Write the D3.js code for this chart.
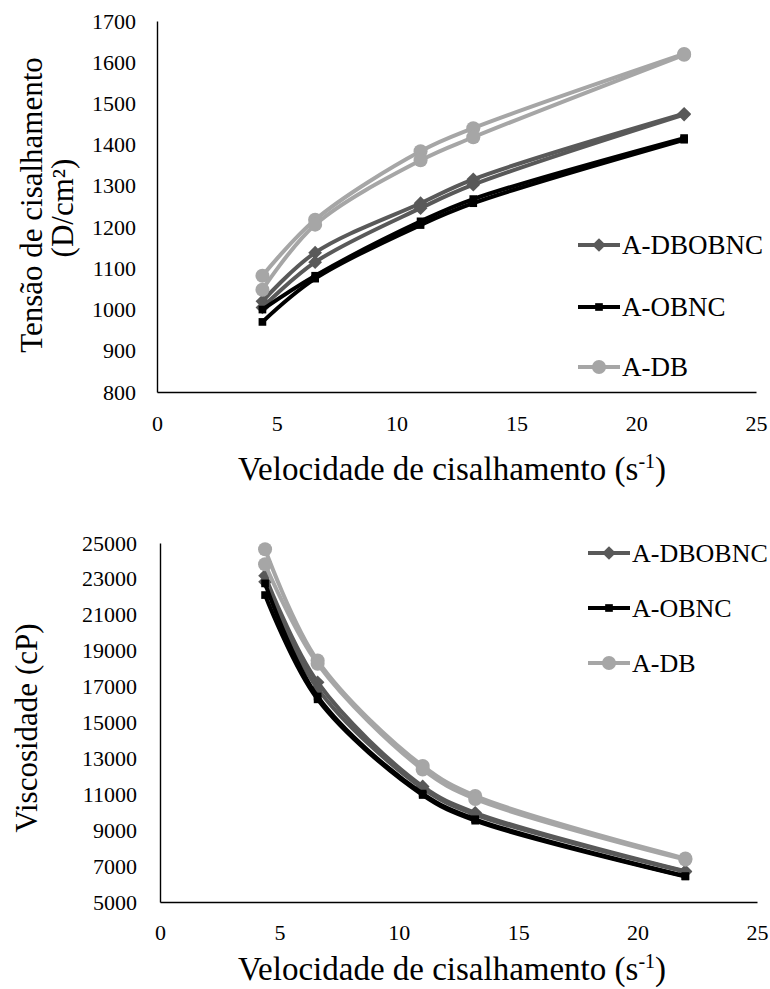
<!DOCTYPE html>
<html><head><meta charset="utf-8">
<script src="https://cdn.jsdelivr.net/npm/d3@7"></script>
<style>body{margin:0;background:#fff;} svg{display:block;} text{font-family:"Liberation Serif","Times New Roman",serif;fill:#000;}</style>
</head><body><svg id="c" width="770" height="989"></svg>
<script>
// ---- data ----
const shearRate = [4.4, 6.6, 11, 13.2, 22];
const xTicks = [0, 5, 10, 15, 20, 25];
const stressTicks = [800, 900, 1000, 1100, 1200, 1300, 1400, 1500, 1600, 1700];
const viscTicks = [5000, 7000, 9000, 11000, 13000, 15000, 17000, 19000, 21000, 23000, 25000];
const seriesNames = ["A-DBOBNC", "A-OBNC", "A-DB"];
// shear stress (D/cm²), two runs per sample
const stressDBOBNC_a = [1020, 1138, 1258, 1316, 1475];
const stressDBOBNC_b = [1005, 1115, 1246, 1303, 1473];
const stressOBNC_a = [1000, 1082, 1214, 1268, 1416];
const stressOBNC_b = [970, 1075, 1205, 1258, 1412];
const stressDB_a = [1082, 1218, 1384, 1440, 1620];
const stressDB_b = [1048, 1206, 1362, 1418, 1618];
// viscosity (cP)
const viscDBOBNC_a = [23180, 17240, 11440, 9970, 6710];
const viscDBOBNC_b = [22840, 16890, 11330, 9870, 6690];
const viscOBNC_a = [22750, 16450, 11040, 9610, 6440];
const viscOBNC_b = [22100, 16290, 10960, 9530, 6420];
const viscDB_a = [24650, 18450, 12580, 10910, 7420];
const viscDB_b = [23820, 18270, 12380, 10740, 7360];

const FONT = '"Liberation Serif","Times New Roman",serif';
const colors = {"A-DBOBNC": "#595959", "A-OBNC": "#000000", "A-DB": "#a6a6a6"};
const symbols = {"A-DBOBNC": d3.symbolDiamond2, "A-OBNC": d3.symbolSquare2, "A-DB": d3.symbolCircle};
const symSize = {"A-DBOBNC": 120, "A-OBNC": 75, "A-DB": 155};

const svg = d3.select("#c");

function panel(cfg) {
  const x = d3.scaleLinear().domain([0, 25]).range(cfg.xr);
  const y = d3.scaleLinear().domain(cfg.yd).range(cfg.yr);
  const g = svg.append("g");
  // axes
  const ax = g.append("g").attr("transform", `translate(0,${cfg.yr[0]})`)
    .call(d3.axisBottom(x).tickValues(xTicks).tickSize(0).tickPadding(cfg.xpad).tickFormat(d3.format("d")));
  const ay = g.append("g").attr("transform", `translate(${cfg.xr[0]},0)`)
    .call(d3.axisLeft(y).tickValues(cfg.yticks).tickSize(0).tickPadding(cfg.ypad).tickFormat(d3.format("d")));
  [ax, ay].forEach(a => {
    a.attr("font-family", FONT).attr("font-size", 22);
    a.select(".domain").attr("stroke", "#000").attr("stroke-width", 1.4);
    a.selectAll("text").attr("font-family", FONT).attr("font-size", 22).attr("fill", "#000");
  });
  const line = d3.line().x((d, i) => x(shearRate[i])).y(d => y(d)).curve(d3.curveCatmullRom.alpha(0.5));
  cfg.series.forEach(s => {
    [s.a, s.b].forEach(vals => {
      g.append("path").attr("d", line(vals)).attr("fill", "none")
        .attr("stroke", colors[s.name]).attr("stroke-width", 4).attr("stroke-linejoin", "round");
      g.selectAll(null).data(vals).enter().append("path")
        .attr("d", d3.symbol().type(symbols[s.name]).size(symSize[s.name]))
        .attr("transform", (d, i) => `translate(${x(shearRate[i])},${y(d)})`)
        .attr("fill", colors[s.name]);
    });
  });
  // legend
  seriesNames.forEach((n, i) => {
    const ly = cfg.legY[i];
    g.append("line").attr("x1", cfg.legX).attr("x2", cfg.legX + 42).attr("y1", ly).attr("y2", ly)
      .attr("stroke", colors[n]).attr("stroke-width", 4);
    g.append("path").attr("d", d3.symbol().type(symbols[n]).size(symSize[n]))
      .attr("transform", `translate(${cfg.legX + 21},${ly})`).attr("fill", colors[n]);
    g.append("text").attr("x", cfg.legX + 44).attr("y", ly + 9).attr("font-family", FONT)
      .style("font-size", cfg.legFont + "px").text(n);
  });
  // x title
  const t = g.append("text").attr("x", cfg.xtx).attr("y", cfg.xty).attr("text-anchor", "middle")
    .attr("font-family", FONT).style("font-size", "33px");
  t.append("tspan").text("Velocidade de cisalhamento (s");
  t.append("tspan").attr("dy", -12).style("font-size", "20px").text("-1");
  t.append("tspan").attr("dy", 12).text(")");
  // y title
  cfg.ytitle.forEach(l => {
    g.append("text").attr("transform", `translate(${l.x},${l.y}) rotate(-90)`).attr("text-anchor", "middle")
      .attr("font-family", FONT).style("font-size", "31px").text(l.t);
  });
}

panel({
  xr: [157, 756], yd: [800, 1700], yr: [392, 21], yticks: stressTicks, xpad: 23, ypad: 21,
  series: [
    {name: "A-DBOBNC", a: stressDBOBNC_a, b: stressDBOBNC_b},
    {name: "A-OBNC", a: stressOBNC_a, b: stressOBNC_b},
    {name: "A-DB", a: stressDB_a, b: stressDB_b}
  ],
  legX: 578, legY: [245, 307, 367], legFont: 27,
  xtx: 452, xty: 480,
  ytitle: [{x: 42, y: 205, t: "Tensão de cisalhamento"}, {x: 73, y: 208, t: "(D/cm²)"}]
});

panel({
  xr: [160, 757], yd: [5000, 25000], yr: [902, 543], yticks: viscTicks, xpad: 22, ypad: 23,
  series: [
    {name: "A-DBOBNC", a: viscDBOBNC_a, b: viscDBOBNC_b},
    {name: "A-OBNC", a: viscOBNC_a, b: viscOBNC_b},
    {name: "A-DB", a: viscDB_a, b: viscDB_b}
  ],
  legX: 588, legY: [553, 608, 663], legFont: 26,
  xtx: 452, xty: 980,
  ytitle: [{x: 37, y: 728, t: "Viscosidade (cP)"}]
});
</script></body></html>
